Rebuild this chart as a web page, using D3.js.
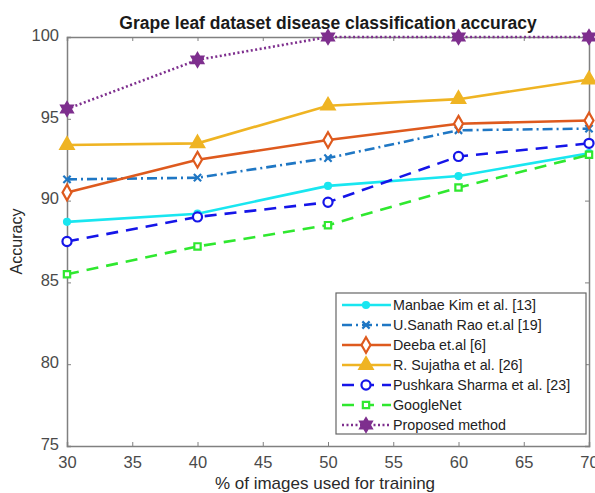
<!DOCTYPE html>
<html>
<head>
<meta charset="utf-8">
<script src="https://cdn.jsdelivr.net/npm/d3@7"></script>
<style>
  body { margin: 0; background: #fff; }
  text { font-family: "Liberation Sans", Arial, sans-serif; }
</style>
</head>
<body>
<div id="chart"></div>
<script>
// training split (% of images) and accuracy per method
const trainPct = [30, 40, 50, 60, 70];
const manbaeKim = [88.7, 89.2, 90.9, 91.5, 92.9];
const sanathRao = [91.3, 91.4, 92.6, 94.3, 94.4];
const deeba = [90.5, 92.5, 93.7, 94.7, 94.9];
const sujatha = [93.4, 93.5, 95.8, 96.2, 97.4];
const pushkara = [87.5, 89.0, 89.9, 92.7, 93.5];
const googleNet = [85.5, 87.2, 88.5, 90.8, 92.8];
const proposed = [95.6, 98.6, 100, 100, 100];

const seriesNames = ["Manbae Kim et al. [13]", "U.Sanath Rao et.al [19]", "Deeba et.al [6]",
    "R. Sujatha et al. [26]", "Pushkara Sharma et al. [23]", "GoogleNet", "Proposed method"];
const xTicks = [30, 35, 40, 45, 50, 55, 60, 65, 70];
const yTicks = [75, 80, 85, 90, 95, 100];

const width = 595, height = 493;
const margins = { top: 37, right: 6, bottom: 47, left: 67 };
const plotW = width - margins.left - margins.right;
const plotH = height - margins.top - margins.bottom;

// hexagram marker (MATLAB 'h')
const hexagram = {
    draw(ctx, size) {
        const r = Math.sqrt(size / 1.6);
        const ri = r * 0.58;
        for (let i = 0; i < 12; i++) {
            const a = -Math.PI / 2 + i * Math.PI / 6;
            const rr = i % 2 === 0 ? r : ri;
            if (i === 0) ctx.moveTo(rr * Math.cos(a), rr * Math.sin(a));
            else ctx.lineTo(rr * Math.cos(a), rr * Math.sin(a));
        }
        ctx.closePath();
    }
};

const styles = [
    { values: manbaeKim, color: "#19e6f0", dash: null, symbol: d3.symbolCircle, size: 28, fill: true },
    { values: sanathRao, color: "#1f77c4", dash: "10,4,2,4", symbol: d3.symbolTimes, size: 36, fill: false },
    { values: deeba, color: "#de5a1e", dash: null, symbol: d3.symbolDiamond, size: 70, fill: false },
    { values: sujatha, color: "#efb423", dash: null, symbol: d3.symbolTriangle, size: 75, fill: true },
    { values: pushkara, color: "#1515e8", dash: "12,8", symbol: d3.symbolCircle, size: 65, fill: false },
    { values: googleNet, color: "#2fe82f", dash: "12,8", symbol: d3.symbolSquare, size: 40, fill: false },
    { values: proposed, color: "#7e2f8e", dash: "2,2.5", symbol: hexagram, size: 70, fill: true }
];

const svg = d3.select("#chart").append("svg")
    .attr("width", width)
    .attr("height", height);

const g = svg.append("g")
    .attr("transform", `translate(${margins.left},${margins.top})`);

const xScale = d3.scaleLinear().domain([30, 70]).range([0, plotW]);
const yScale = d3.scaleLinear().domain([75, 100]).range([plotH, 0]);

// axes box with inward ticks (MATLAB style)
const axisColor = "#808080";
const tickLen = 4;

const xAxis = g.append("g")
    .attr("transform", `translate(0,${plotH})`)
    .call(d3.axisBottom(xScale).tickValues(xTicks).tickSize(-tickLen).tickPadding(tickLen + 6));
const xAxisTop = g.append("g")
    .call(d3.axisTop(xScale).tickValues(xTicks).tickSize(-tickLen).tickFormat(""));
const yAxis = g.append("g")
    .call(d3.axisLeft(yScale).tickValues(yTicks).tickSize(-tickLen).tickPadding(tickLen + 4));
const yAxisRight = g.append("g")
    .attr("transform", `translate(${plotW},0)`)
    .call(d3.axisRight(yScale).tickValues(yTicks).tickSize(-tickLen).tickFormat(""));

[xAxis, xAxisTop, yAxis, yAxisRight].forEach(a => {
    a.select(".domain").attr("stroke", axisColor).attr("stroke-width", 1.5);
    a.selectAll(".tick line").attr("stroke", axisColor);
    a.selectAll(".tick text")
        .attr("font-size", 16.5)
        .attr("fill", "#4a4a4a")
        .attr("font-family", "Liberation Sans, Arial, sans-serif");
});
yAxis.selectAll(".tick text").attr("dy", "0.2em");

// lines and markers
const line = d3.line()
    .x((d, i) => xScale(trainPct[i]))
    .y(d => yScale(d));

styles.forEach(s => {
    g.append("path")
        .datum(s.values)
        .attr("fill", "none")
        .attr("stroke", s.color)
        .attr("stroke-width", 2.6)
        .attr("stroke-dasharray", s.dash)
        .attr("d", line);

    g.selectAll(null)
        .data(s.values)
        .join("path")
        .attr("transform", (d, i) => `translate(${xScale(trainPct[i])},${yScale(d)})`)
        .attr("d", d3.symbol().type(s.symbol).size(s.size))
        .attr("fill", s.fill ? s.color : "#fff")
        .attr("stroke", s.color)
        .attr("stroke-width", 2.2);
});

// title
svg.append("text")
    .attr("x", margins.left + plotW / 2 + 0)
    .attr("y", 29)
    .attr("text-anchor", "middle")
    .attr("font-size", 17.5)
    .attr("font-weight", "bold")
    .attr("fill", "#1a1a1a")
    .text("Grape leaf dataset disease classification accuracy");

// axis labels
svg.append("text")
    .attr("x", margins.left + plotW / 2 - 3)
    .attr("y", 489)
    .attr("text-anchor", "middle")
    .attr("font-size", 17)
    .attr("fill", "#2a2a2a")
    .text("% of images used for training");

svg.append("text")
    .attr("transform", `translate(22,${margins.top + plotH / 2}) rotate(-90)`)
    .attr("text-anchor", "middle")
    .attr("font-size", 16)
    .attr("fill", "#2a2a2a")
    .text("Accuracy");

// legend
const legend = svg.append("g")
    .attr("transform", "translate(336,293)");

legend.append("rect")
    .attr("width", 250)
    .attr("height", 141)
    .attr("fill", "#fff")
    .attr("stroke", "#666")
    .attr("stroke-width", 1.2);

const rowH = 20;
styles.forEach((s, i) => {
    const y = 12 + i * rowH;
    const item = legend.append("g").attr("transform", `translate(0,${y})`);
    item.append("line")
        .attr("x1", 6).attr("x2", 55)
        .attr("y1", 0).attr("y2", 0)
        .attr("stroke", s.color)
        .attr("stroke-width", 2.6)
        .attr("stroke-dasharray", s.dash);
    item.append("path")
        .attr("transform", "translate(30,0)")
        .attr("d", d3.symbol().type(s.symbol).size(s.size))
        .attr("fill", s.fill ? s.color : "#fff")
        .attr("stroke", s.color)
        .attr("stroke-width", 2.2);
    item.append("text")
        .attr("x", 57)
        .attr("y", 5)
        .attr("font-size", 14.3)
        .attr("fill", "#222")
        .text(seriesNames[i]);
});
</script>
</body>
</html>
